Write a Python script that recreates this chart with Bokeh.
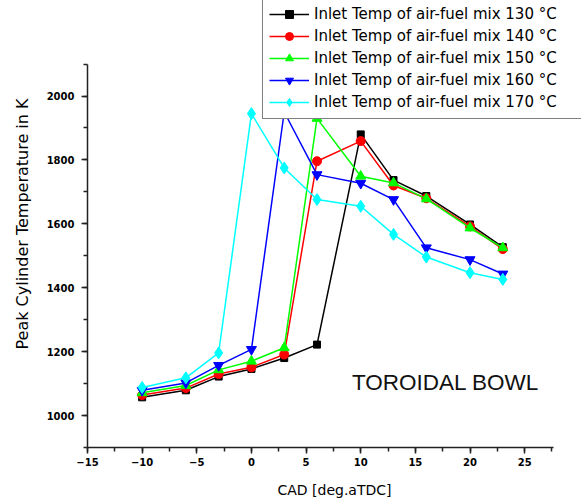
from bokeh.plotting import figure
from bokeh.models import (Range1d, SingleIntervalTicker, Legend, LegendItem, Label)
from bokeh.embed import file_html
from bokeh.resources import INLINE

# ---- data ----
cad = [-10, -6, -3, 0, 3, 6, 10, 13, 16, 20, 23]
t130 = [1057, 1079, 1122, 1146, 1180, 1222, 1880, 1737, 1687, 1598, 1527]
t140 = [1064, 1086, 1130, 1151, 1191, 1796, 1859, 1720, 1680, 1592, 1521]
t150 = [1071, 1094, 1143, 1170, 1212, 1930, 1749, 1728, 1678, 1587, 1525]
t160 = [1079, 1102, 1157, 1207, 1950, 1754, 1727, 1676, 1525, 1488, 1443]
t170 = [1088, 1118, 1196, 1945, 1775, 1676, 1655, 1567, 1496, 1447, 1426]

series_labels = [
    "Inlet Temp of air-fuel mix 130 \u00b0C",
    "Inlet Temp of air-fuel mix 140 \u00b0C",
    "Inlet Temp of air-fuel mix 150 \u00b0C",
    "Inlet Temp of air-fuel mix 160 \u00b0C",
    "Inlet Temp of air-fuel mix 170 \u00b0C",
]
series_values = [t130, t140, t150, t160, t170]
colors = ["#000000", "#ff0000", "#00ff00", "#0000ff", "#00ffff"]
markers = ["square", "circle", "triangle", "inverted_triangle", "diamond"]
marker_sizes = [7, 9, 10, 10, 12]

x_title = "CAD [deg.aTDC]"
y_title = "Peak Cylinder Temperature in K"
annotation = "TOROIDAL BOWL"

p = figure(width=581, height=503, output_backend="svg", toolbar_location=None,
           title=None,
           x_range=Range1d(-15, 30.2), y_range=Range1d(900, 2299),
           min_border_left=87, min_border_right=0, min_border_top=0,
           min_border_bottom=56)
p.outline_line_color = None
p.xgrid.visible = False
p.ygrid.visible = False
p.background_fill_color = "white"

items = []
for lab, vals, c, m, s in zip(series_labels, series_values, colors, markers, marker_sizes):
    lr = p.line(cad, vals, line_color=c, line_width=1.5)
    sr = p.scatter(cad, vals, marker=m, size=s, fill_color=c, line_color=c)
    items.append(LegendItem(label=lab, renderers=[lr, sr]))

legend = Legend(items=items, location=(175, 328), orientation="vertical",
                border_line_color="black", border_line_width=1.2,
                background_fill_color="white", background_fill_alpha=1.0,
                padding=6, margin=0, spacing=2, label_height=20,
                glyph_height=20, glyph_width=40, label_standoff=5,
                label_width=290,
                label_text_font="DejaVu Sans", label_text_font_size="15px",
                label_text_color="black")
p.add_layout(legend, "center")

for ax in (p.xaxis[0], p.yaxis[0]):
    ax.axis_line_color = "#222222"
    ax.axis_line_width = 1.5
    ax.major_tick_line_color = "#222222"
    ax.minor_tick_line_color = "#222222"
    ax.major_tick_line_width = 1.5
    ax.minor_tick_line_width = 1.5
    ax.major_tick_in = 0
    ax.major_tick_out = 6
    ax.minor_tick_in = 0
    ax.minor_tick_out = 4
    ax.major_label_text_font = "DejaVu Sans"
    ax.major_label_text_font_size = "10px"
    ax.major_label_text_font_style = "bold"
    ax.major_label_text_color = "black"
    ax.axis_label_text_font = "DejaVu Sans"
    ax.axis_label_text_font_style = "normal"
    ax.axis_label_text_color = "black"

p.xaxis[0].ticker = SingleIntervalTicker(interval=5, num_minor_ticks=2)
p.yaxis[0].ticker = SingleIntervalTicker(interval=200, num_minor_ticks=2)
p.xaxis[0].bounds = (-15, 27.6)
p.yaxis[0].bounds = (900, 2100)
p.xaxis[0].axis_label = x_title
p.yaxis[0].axis_label = y_title
p.xaxis[0].axis_label_text_font_size = "14px"
p.yaxis[0].axis_label_text_font_size = "16px"
p.xaxis[0].major_label_standoff = 4
p.yaxis[0].major_label_standoff = 7
p.xaxis[0].axis_label_standoff = 13
p.yaxis[0].axis_label_standoff = 12

p.add_layout(Label(x=9.2, y=1102, text=annotation, text_baseline="middle",
                   text_font="Liberation Sans", text_font_size="22.5px",
                   text_color="#111111"))

open("out.html", "w").write(file_html(p, INLINE))
